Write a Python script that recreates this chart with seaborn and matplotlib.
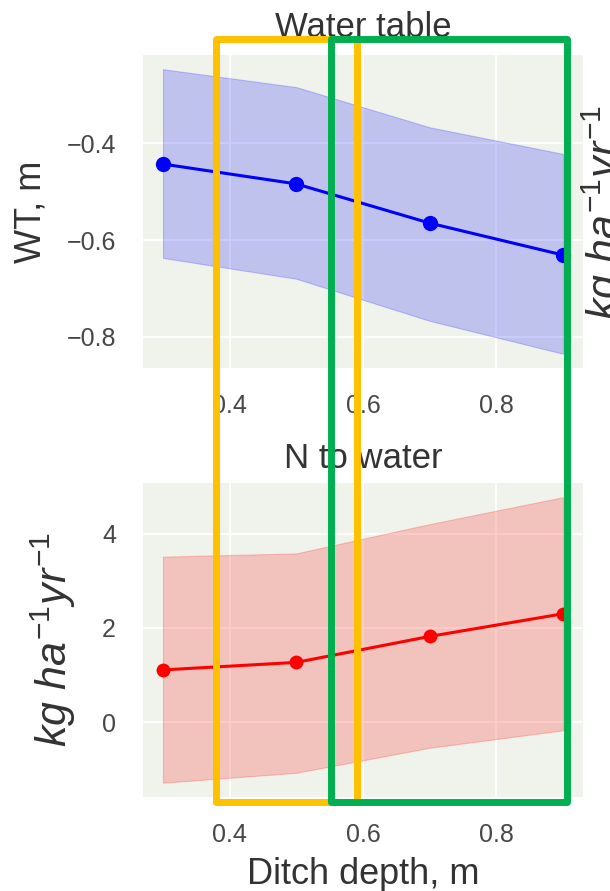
import numpy as np
import matplotlib
matplotlib.use("Agg")
import matplotlib.pyplot as plt
import seaborn as sns
from matplotlib.patches import Rectangle

# =========================
# Data
# =========================
ditch_depth = [0.3, 0.5, 0.7, 0.9]

wt_mean = [-0.443, -0.484, -0.565, -0.631]
wt_upper = [-0.247, -0.284, -0.367, -0.422]
wt_lower = [-0.637, -0.680, -0.767, -0.835]

n_mean = [1.11, 1.27, 1.82, 2.30]
n_upper = [3.51, 3.58, 4.20, 4.77]
n_lower = [-1.28, -1.07, -0.54, -0.17]

wt_yticks = [-0.8, -0.6, -0.4]
n_yticks = [0, 2, 4]
x_ticks = [0.4, 0.6, 0.8]

unit_label = r"$kg\ ha^{-1}yr^{-1}$"

# =========================
# Style
# =========================
sns.set_style("darkgrid", {"axes.facecolor": "#F0F3EB", "grid.color": "white"})
plt.rcParams["font.family"] = ["Liberation Sans", "DejaVu Sans"]
plt.rcParams["mathtext.fontset"] = "custom"
plt.rcParams["mathtext.rm"] = "Liberation Sans"
plt.rcParams["mathtext.it"] = "Liberation Sans:italic"
plt.rcParams["grid.linewidth"] = 1.3

fig = plt.figure(figsize=(6.1, 8.91), dpi=100)
ax1 = fig.add_axes([0.2344, 0.587, 0.7213, 0.3513])
ax2 = fig.add_axes([0.2344, 0.1055, 0.7213, 0.3525])

tick_color = "0.28"

# =========================
# Top: water table
# =========================
sns.lineplot(x=ditch_depth, y=wt_mean, marker="o", color="blue",
             markersize=11, linewidth=2.2, markeredgewidth=0, ax=ax1)
ax1.fill_between(ditch_depth, wt_lower, wt_upper, color="blue", alpha=0.2, linewidth=0.8)
ax1.set_yticks(wt_yticks)
ax1.set_xticks(x_ticks)
ax1.set_title("Water table", fontsize=25, pad=13, color="0.2")
ax1.set_ylabel("WT, m", fontsize=26, color="0.2")
ax1.yaxis.set_label_coords(-0.214, 0.5)

# =========================
# Bottom: N to water
# =========================
sns.lineplot(x=ditch_depth, y=n_mean, marker="o", color="red",
             markersize=10, linewidth=2.2, markeredgewidth=0, ax=ax2)
ax2.fill_between(ditch_depth, n_lower, n_upper, color="red", alpha=0.2, linewidth=0.8)
ax2.set_yticks(n_yticks)
ax2.set_xticks(x_ticks)
ax2.set_title("N to water", fontsize=25, pad=11, color="0.2")
ax2.set_ylabel(unit_label, fontsize=31, color="0.2")
ax2.yaxis.set_label_coords(-0.148, 0.5)
ax2.set_xlabel("Ditch depth, m", fontsize=26, color="0.2")
ax2.xaxis.set_label_coords(0.5, -0.19)

for ax in (ax1, ax2):
    ax.tick_params(axis="x", labelsize=18, pad=15, colors=tick_color)
    ax.tick_params(axis="y", labelsize=18, pad=16, colors=tick_color)
    for s in ax.spines.values():
        s.set_visible(False)

# clipped label of the neighbouring panel on the right
fig.text(0.99, 0.762, unit_label, rotation=90, ha="center", va="center",
         fontsize=31, color="0.2")

# =========================
# Highlight boxes
# =========================
orange_box = Rectangle((216 / 610, 1 - 802 / 891), (357 - 216) / 610, (802 - 39) / 891,
                       transform=fig.transFigure, fill=False, edgecolor="#FFC000",
                       linewidth=5, joinstyle="round", zorder=10)
green_box = Rectangle((331 / 610, 1 - 802 / 891), (567 - 331) / 610, (802 - 39) / 891,
                      transform=fig.transFigure, fill=False, edgecolor="#00B050",
                      linewidth=5, joinstyle="round", zorder=11)
fig.add_artist(orange_box)
fig.add_artist(green_box)

plt.savefig("out.png", dpi=100)
